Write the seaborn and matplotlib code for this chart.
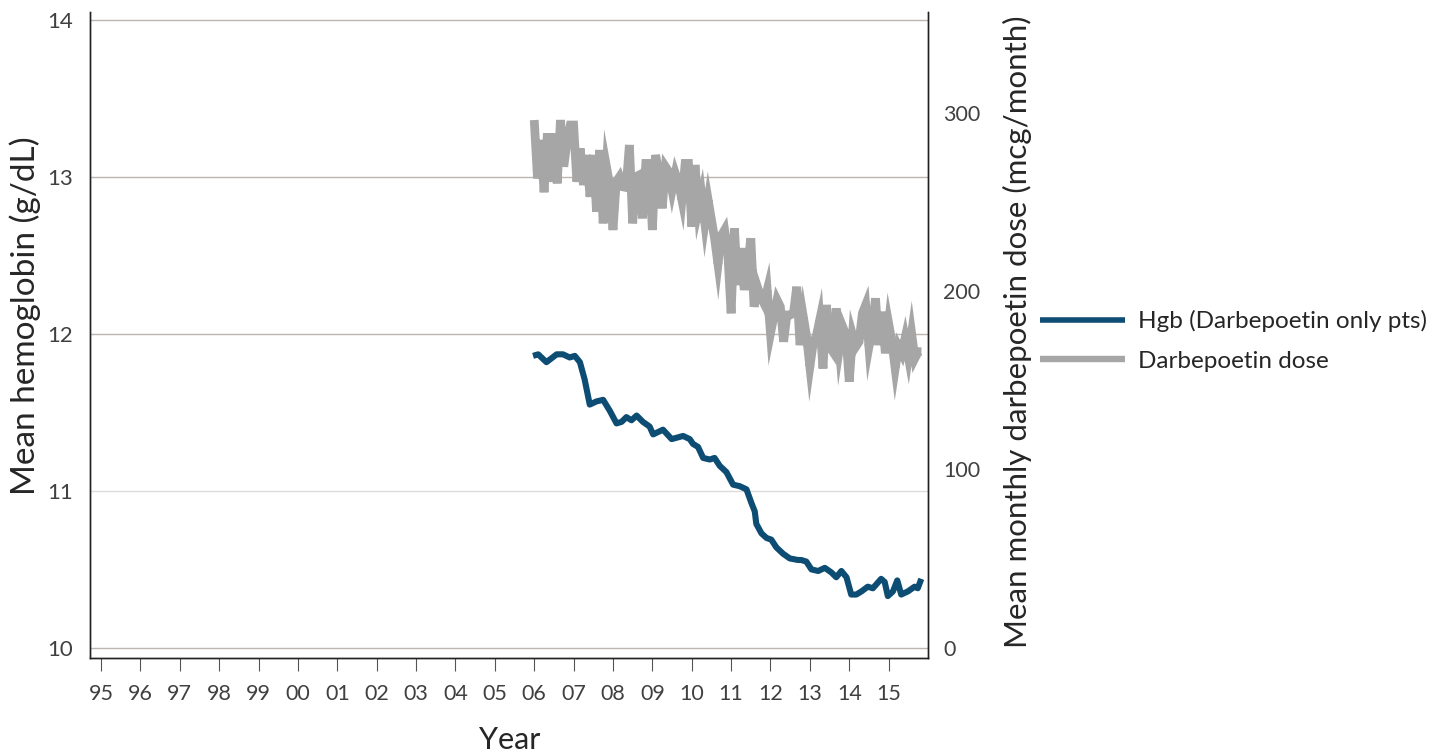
import numpy as np
import pandas as pd
import matplotlib
matplotlib.use("Agg")
import matplotlib.pyplot as plt
import seaborn as sns

# ---------------- data ----------------
hgb_years = [2005.97, 2006.10, 2006.31, 2006.57, 2006.73, 2006.90, 2007.03, 2007.16,
             2007.28, 2007.41, 2007.58, 2007.75, 2007.92, 2008.09, 2008.22, 2008.34,
             2008.47, 2008.60, 2008.76, 2008.93, 2009.02, 2009.27, 2009.49, 2009.78,
             2009.95, 2010.03, 2010.16, 2010.29, 2010.46, 2010.58, 2010.71, 2010.88,
             2011.05, 2011.22, 2011.39, 2011.52, 2011.60, 2011.64, 2011.77, 2011.90,
             2012.02, 2012.15, 2012.32, 2012.49, 2012.70, 2012.78, 2012.91, 2013.04,
             2013.21, 2013.38, 2013.55, 2013.67, 2013.80, 2013.93, 2014.05, 2014.18,
             2014.31, 2014.47, 2014.60, 2014.81, 2014.90, 2014.98, 2015.11, 2015.22,
             2015.32, 2015.49, 2015.66, 2015.74, 2015.83]
hgb_values = [11.86, 11.87, 11.82, 11.87, 11.87, 11.85, 11.86, 11.82,
              11.71, 11.55, 11.57, 11.58, 11.51, 11.43, 11.44, 11.47,
              11.45, 11.48, 11.44, 11.41, 11.36, 11.39, 11.33, 11.35,
              11.33, 11.30, 11.28, 11.21, 11.20, 11.21, 11.16, 11.12,
              11.04, 11.03, 11.01, 10.92, 10.87, 10.79, 10.73, 10.70,
              10.69, 10.64, 10.60, 10.57, 10.56, 10.56, 10.55, 10.50,
              10.49, 10.51, 10.48, 10.45, 10.49, 10.45, 10.34, 10.34,
              10.36, 10.39, 10.38, 10.44, 10.42, 10.33, 10.36, 10.43,
              10.34, 10.36, 10.39, 10.38, 10.44]

dose_start_year = 2006.0
dose_values = [295.8, 263.1, 284.6, 255.3, 288.3, 261.2, 288.3, 260.3, 295.8, 269.7,
               283.7, 293.0, 293.0, 261.2, 279.9, 259.4, 276.2, 252.8, 276.2, 244.4,
               279.0, 237.9, 269.7, 259.4, 234.2, 261.2, 264.0, 258.4, 258.0, 281.8,
               237.9, 264.0, 265.0, 240.7, 271.5, 271.5, 234.2, 276.2, 265.9, 246.3,
               269.7, 266.9, 256.6, 265.9, 260.3, 251.0, 271.5, 271.5, 236.1, 270.6,
               245.4, 253.8, 238.0, 251.0, 240.0, 229.0, 215.0, 231.0, 234.2, 221.1,
               187.5, 235.1, 203.4, 224.0, 200.6, 213.7, 229.5, 191.2, 202.4, 196.8,
               193.1, 200.6, 176.3, 185.6, 195.0, 191.2, 171.6, 186.6, 186.6, 187.5,
               202.4, 169.7, 185.6, 174.4, 157.6, 170.6, 175.0, 183.8, 156.6, 192.2,
               168.8, 166.0, 190.3, 167.9, 180.0, 175.4, 149.2, 175.4, 168.8, 171.6,
               187.5, 192.2, 168.8, 179.1, 195.9, 169.7, 188.4, 165.1, 181.9, 171.6,
               156.6, 168.8, 165.1, 173.5, 163.2, 176.3, 162.3, 166.0, 166.0]

year_ticks = list(range(1995, 2016))
year_tick_labels = ["95", "96", "97", "98", "99", "00", "01", "02", "03", "04", "05",
                    "06", "07", "08", "09", "10", "11", "12", "13", "14", "15"]
hgb_ticks = [10, 11, 12, 13, 14]
dose_ticks = [0, 100, 200, 300]

series_labels = ["Hgb (Darbepoetin only pts)", "Darbepoetin dose"]

hgb_df = pd.DataFrame({"year": hgb_years, "hgb": hgb_values})
dose_df = pd.DataFrame({"year": dose_start_year + np.arange(len(dose_values)) / 12.0,
                        "dose": dose_values})

# ---------------- style ----------------
sns.set_theme(style="white")
plt.rcParams["font.family"] = ["Lato", "DejaVu Sans"]

BLUE = "#0d4d74"
GRAY = "#a6a6a6"
TXT = "#404040"

fig = plt.figure(figsize=(14.55, 7.53), dpi=100)
ax = fig.add_axes([0.0619, 0.1262, 0.5759, 0.8578])
ax2 = ax.twinx()

sns.lineplot(data=hgb_df, x="year", y="hgb", ax=ax, color=BLUE, linewidth=4.4,
             sort=False, label=series_labels[0], legend=False)
sns.lineplot(data=dose_df, x="year", y="dose", ax=ax2, color=GRAY, linewidth=6.3,
             sort=False, label=series_labels[1], legend=False)
for ln in ax2.get_lines():
    ln.set_solid_joinstyle("miter")
    ln.set_solid_capstyle("butt")
for ln in ax.get_lines():
    ln.set_solid_joinstyle("round")
    ln.set_solid_capstyle("butt")

ax.set_xlim(1994.72, 2016.0)
ax.set_ylim(9.936, 14.05)
ax2.set_ylim(-5.6, 356.3)

ax.set_xticks(year_ticks)
ax.set_xticklabels(year_tick_labels)
ax.set_yticks(hgb_ticks)
ax.set_yticklabels([str(t) for t in hgb_ticks])
ax2.set_yticks(dose_ticks)
ax2.set_yticklabels([str(t) for t in dose_ticks])

ax.tick_params(axis="x", which="both", bottom=True, length=9, width=0.8,
               color="#555555", pad=10, labelsize=15.5, labelcolor=TXT)
ax.tick_params(axis="y", length=0, pad=12, labelsize=16, labelcolor=TXT)
ax2.tick_params(axis="y", length=0, pad=11, labelsize=15.5, labelcolor=TXT)

# grid on the hemoglobin axis
ax.grid(True, axis="y", linewidth=1.0, color="#bdb6ae")
ax.grid(False, axis="x")
for gl, t in zip(ax.get_ygridlines(), hgb_ticks):
    if t == 11:
        gl.set_color("#dcdcdc")
ax.set_axisbelow(True)

for a in (ax, ax2):
    a.spines["top"].set_visible(False)
    for s in ("left", "right", "bottom"):
        a.spines[s].set_color("#222222")
        a.spines[s].set_linewidth(1.0)

ax.set_xlabel("Year", fontsize=22, color="#262626")
ax.xaxis.set_label_coords(0.501, -0.106)
ax.set_ylabel("Mean hemoglobin (g/dL)", fontsize=24, color="#262626")
ax.yaxis.set_label_coords(-0.058, 0.53)
ax2.set_ylabel("Mean monthly darbepoetin dose (mcg/month)", fontsize=22.5, color="#262626")
ax2.yaxis.set_label_coords(1.089, 0.505)

handles = ax.get_lines()[:1] + ax2.get_lines()[:1]
leg = fig.legend(handles, series_labels, loc="center left",
                 bbox_to_anchor=(1040 / 1455, 1 - 341 / 753), frameon=False,
                 fontsize=17.5, handlelength=3.5, handletextpad=0.55, labelspacing=0.75,
                 borderpad=0, borderaxespad=0, labelcolor="#262626")
for lh, w in zip(leg.get_lines(), [4.0, 4.6]):
    lh.set_linewidth(w)
    lh.set_solid_capstyle("butt")

fig.savefig("out.png", dpi=100)
